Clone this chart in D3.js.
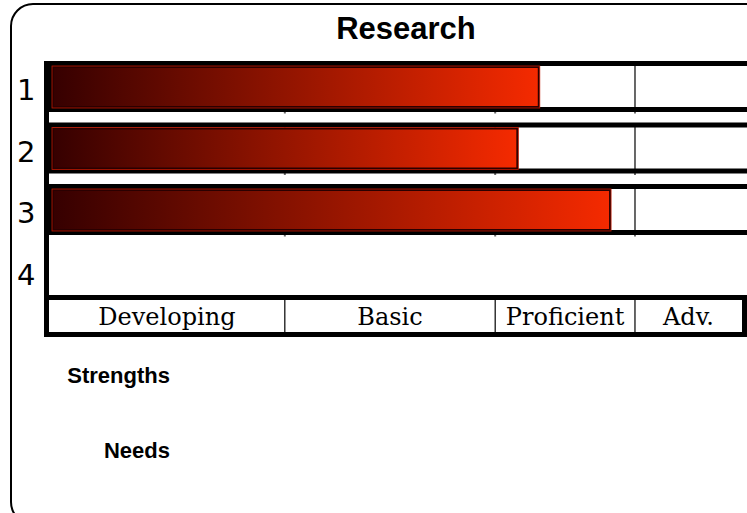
<!DOCTYPE html>
<html><head><meta charset="utf-8">
<script src="https://cdn.jsdelivr.net/npm/d3@7"></script>
<style>html,body{margin:0;padding:0;background:#fff;overflow:hidden}</style>
</head><body>
<svg id="c" width="747" height="513"></svg>
<script>
const title = "Research";
const rows = ["1", "2", "3", "4"];
const values = [70.2, 67.1, 80.5, null];
const levels = ["Developing", "Basic", "Proficient", "Adv."];
const levelEdges = [0, 33.5, 63.9, 84.1, 100];
const notes = ["Strengths", "Needs"];

const svg = d3.select("#c");
const x = d3.scaleLinear().domain([0, 100]).range([53, 745]);
const y = d3.scaleBand().domain(rows).range([61, 296.5]).paddingInner(10.5 / 61.5).paddingOuter(0);

const defs = svg.append("defs");
values.forEach((v, i) => {
  const g = defs.append("linearGradient").attr("id", "grad" + i)
    .attr("x1", "0%").attr("x2", "100%").attr("y1", "0%").attr("y2", "0%");
  g.append("stop").attr("offset", "0%").attr("stop-color", "#360000");
  g.append("stop").attr("offset", "100%").attr("stop-color", "#f52a00");
});

// outer rounded panel
svg.append("rect").attr("x", 11).attr("y", 4).attr("width", 760).attr("height", 520)
  .attr("rx", 22).attr("ry", 22).attr("fill", "#fff").attr("stroke", "#000").attr("stroke-width", 2);

// title
svg.append("text").attr("x", 406).attr("y", 39).attr("text-anchor", "middle")
  .attr("font-family", "Liberation Sans, Arial, sans-serif").attr("font-weight", "bold")
  .attr("font-size", 31).text(title);

// left frame line
svg.append("rect").attr("x", 44).attr("y", y(rows[0])).attr("width", 5).attr("height", 337 - y(rows[0])).attr("fill", "#000");

// row tracks
const bw = y.bandwidth();
rows.forEach((r, i) => {
  const v = values[i];
  const top = y(r);
  if (v != null) {
    svg.append("rect").attr("x", 50.5).attr("y", top + 2.5).attr("width", 700).attr("height", bw - 5)
      .attr("fill", "#fff");
    // gridlines inside track
    levelEdges.slice(1, -1).forEach(e => {
      svg.append("line").attr("x1", x(e)).attr("x2", x(e)).attr("y1", top + 3).attr("y2", top + bw + 1.5)
        .attr("stroke", "#666").attr("stroke-width", 2);
    });
    svg.append("rect").attr("x", 50.5).attr("y", top + 2.5).attr("width", 700).attr("height", bw - 5)
      .attr("fill", "none").attr("stroke", "#000").attr("stroke-width", 5);
    // bar
    svg.append("rect").attr("x", x(0)).attr("y", top + 6).attr("width", x(v) - x(0)).attr("height", bw - 11)
      .attr("fill", "url(#grad" + i + ")").attr("stroke", "#2a0000").attr("stroke-width", 2);
    svg.append("rect").attr("x", x(0) - 1).attr("y", top + 5).attr("width", x(v) - x(0) + 2).attr("height", bw - 9)
      .attr("fill", "none").attr("stroke", "#c01800").attr("stroke-width", 0.8);
  }
  svg.append("text").attr("x", 17).attr("y", top + bw / 2 + 13.5)
    .attr("font-family", "DejaVu Sans, sans-serif").attr("font-size", 29).text(r);
});

// level label row
svg.append("rect").attr("x", 46.5).attr("y", 297.5).attr("width", 698).attr("height", 37)
  .attr("fill", "#fff").attr("stroke", "#000").attr("stroke-width", 5);
levelEdges.slice(1, -1).forEach(e => {
  svg.append("line").attr("x1", x(e)).attr("x2", x(e)).attr("y1", 300).attr("y2", 332)
    .attr("stroke", "#000").attr("stroke-width", 1.2);
});
levels.forEach((l, i) => {
  const a = i === 0 ? 49 : x(levelEdges[i]);
  const b = i === levels.length - 1 ? 742 : x(levelEdges[i + 1]);
  svg.append("text").attr("x", (a + b) / 2).attr("y", 325).attr("text-anchor", "middle")
    .attr("font-family", "DejaVu Serif, serif").attr("font-size", 24).text(l);
});

// notes
const noteY = [383, 458];
notes.forEach((n, i) => {
  svg.append("text").attr("x", 170).attr("y", noteY[i]).attr("text-anchor", "end")
    .attr("font-family", "Liberation Sans, Arial, sans-serif").attr("font-weight", "bold")
    .attr("font-size", 22).text(n);
});
</script>
</body></html>
